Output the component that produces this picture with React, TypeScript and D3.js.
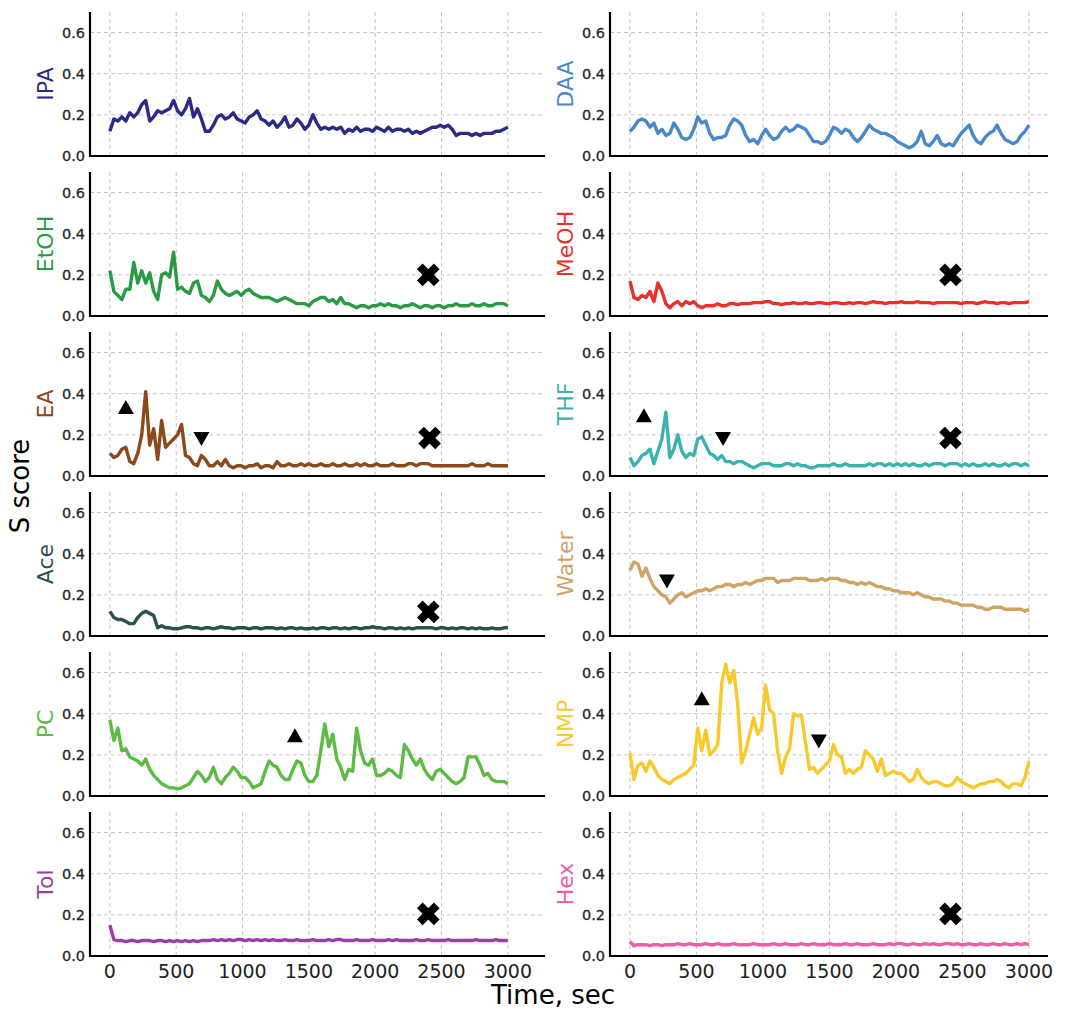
import React from "react";
import * as d3 from "d3";

// sampling grid of the traces, seconds
const TIMES = d3.range(0, 3001, 30);

const X_TICKS = [0, 500, 1000, 1500, 2000, 2500, 3000];
const Y_TICKS = [0.0, 0.2, 0.4, 0.6];

const LEFT_NAMES = ["IPA", "EtOH", "EA", "Ace", "PC", "Tol"];
const RIGHT_NAMES = ["DAA", "MeOH", "THF", "Water", "NMP", "Hex"];

const IPA = [
  0.12, 0.18, 0.17, 0.19, 0.17, 0.21, 0.19, 0.21, 0.25, 0.27,
  0.17, 0.19, 0.22, 0.21, 0.22, 0.23, 0.27, 0.22, 0.2, 0.23,
  0.28, 0.19, 0.23, 0.18, 0.12, 0.12, 0.15, 0.19, 0.2, 0.18,
  0.19, 0.21, 0.18, 0.17, 0.16, 0.19, 0.2, 0.22, 0.18, 0.17,
  0.15, 0.17, 0.14, 0.16, 0.19, 0.14, 0.15, 0.18, 0.16, 0.13,
  0.15, 0.2, 0.16, 0.13, 0.14, 0.13, 0.14, 0.13, 0.14, 0.11,
  0.13, 0.12, 0.14, 0.12, 0.13, 0.13, 0.12, 0.14, 0.13, 0.12,
  0.14, 0.12, 0.13, 0.13, 0.12, 0.13, 0.11, 0.12, 0.11, 0.12,
  0.13, 0.14, 0.14, 0.15, 0.14, 0.15, 0.13, 0.1, 0.11, 0.11,
  0.11, 0.1, 0.11, 0.1, 0.11, 0.11, 0.11, 0.12, 0.12, 0.13,
  0.14,
];

const DAA = [
  0.12, 0.14, 0.17, 0.18, 0.17, 0.14, 0.16, 0.11, 0.13, 0.1,
  0.11, 0.16, 0.13, 0.09, 0.08, 0.09, 0.13, 0.19, 0.16, 0.17,
  0.11, 0.08, 0.09, 0.09, 0.1, 0.15, 0.18, 0.17, 0.15, 0.1,
  0.07, 0.08, 0.06, 0.1, 0.13, 0.1, 0.08, 0.09, 0.12, 0.14,
  0.12, 0.13, 0.15, 0.14, 0.13, 0.1, 0.07, 0.07, 0.06, 0.07,
  0.1, 0.14, 0.13, 0.11, 0.13, 0.12, 0.09, 0.07, 0.09, 0.12,
  0.15, 0.13, 0.12, 0.11, 0.11, 0.1, 0.09, 0.07, 0.06, 0.05,
  0.04, 0.05, 0.07, 0.12, 0.06, 0.05, 0.07, 0.1, 0.06, 0.05,
  0.06, 0.05, 0.08, 0.11, 0.13, 0.15, 0.1, 0.07, 0.06, 0.09,
  0.11, 0.12, 0.15, 0.11, 0.08, 0.07, 0.06, 0.07, 0.1, 0.12,
  0.15,
];

const EtOH = [
  0.22, 0.12, 0.1, 0.08, 0.13, 0.13, 0.26, 0.16, 0.22, 0.16,
  0.21, 0.12, 0.08, 0.2, 0.21, 0.19, 0.31, 0.13, 0.14, 0.12,
  0.11, 0.16, 0.17, 0.1, 0.09, 0.07, 0.1, 0.17, 0.13, 0.11,
  0.1, 0.11, 0.12, 0.1, 0.12, 0.13, 0.11, 0.1, 0.09, 0.09,
  0.09, 0.08, 0.07, 0.08, 0.09, 0.08, 0.07, 0.06, 0.06, 0.06,
  0.05, 0.07, 0.08, 0.09, 0.09, 0.07, 0.08, 0.06, 0.09, 0.06,
  0.06, 0.05, 0.04, 0.05, 0.05, 0.04, 0.05, 0.05, 0.06, 0.05,
  0.06, 0.05, 0.05, 0.04, 0.05, 0.05, 0.06, 0.05, 0.04, 0.05,
  0.05, 0.04, 0.05, 0.05, 0.04, 0.05, 0.05, 0.06, 0.05, 0.05,
  0.05, 0.06, 0.05, 0.05, 0.06, 0.05, 0.05, 0.06, 0.06, 0.06,
  0.05,
];

const MeOH = [
  0.17, 0.09, 0.08, 0.1, 0.09, 0.12, 0.07, 0.16, 0.12, 0.06,
  0.04, 0.06, 0.07, 0.05, 0.07, 0.06, 0.07, 0.05, 0.04, 0.05,
  0.05, 0.05, 0.06, 0.05, 0.05, 0.06, 0.06, 0.055, 0.06, 0.06,
  0.06, 0.065, 0.065, 0.065, 0.07, 0.07, 0.06, 0.06, 0.055, 0.06,
  0.06, 0.065, 0.06, 0.06, 0.065, 0.06, 0.06, 0.065, 0.065, 0.06,
  0.06, 0.065, 0.065, 0.06, 0.06, 0.065, 0.06, 0.065, 0.065, 0.06,
  0.065, 0.07, 0.065, 0.065, 0.06, 0.065, 0.065, 0.065, 0.07, 0.065,
  0.065, 0.065, 0.07, 0.065, 0.065, 0.065, 0.06, 0.065, 0.065, 0.065,
  0.065, 0.065, 0.065, 0.06, 0.065, 0.065, 0.065, 0.06, 0.065, 0.07,
  0.065, 0.065, 0.06, 0.065, 0.065, 0.06, 0.065, 0.065, 0.065, 0.065,
  0.07,
];

const EA = [
  0.11, 0.09, 0.1, 0.13, 0.14, 0.07, 0.06, 0.11, 0.2, 0.41,
  0.15, 0.23, 0.08, 0.27, 0.14, 0.16, 0.18, 0.2, 0.25, 0.1,
  0.09, 0.06, 0.05, 0.1, 0.08, 0.05, 0.05, 0.07, 0.05, 0.08,
  0.05, 0.04, 0.05, 0.05, 0.04, 0.05, 0.05, 0.06, 0.04, 0.05,
  0.05, 0.04, 0.07, 0.05, 0.05, 0.06, 0.05, 0.05, 0.06, 0.05,
  0.06, 0.05, 0.05, 0.06, 0.05, 0.05, 0.06, 0.05, 0.05, 0.06,
  0.05, 0.05, 0.06, 0.05, 0.06, 0.05, 0.05, 0.06, 0.05, 0.05,
  0.05, 0.06, 0.05, 0.05, 0.05, 0.06, 0.06, 0.05, 0.06, 0.06,
  0.06, 0.05, 0.05, 0.05, 0.05, 0.05, 0.05, 0.05, 0.05, 0.05,
  0.05, 0.06, 0.05, 0.05, 0.05, 0.06, 0.05, 0.05, 0.05, 0.05,
  0.05,
];

const THF = [
  0.09, 0.05, 0.07, 0.1, 0.11, 0.13, 0.06, 0.12, 0.18, 0.31,
  0.09, 0.13, 0.2, 0.12, 0.09, 0.11, 0.1, 0.18, 0.19, 0.15,
  0.11, 0.1, 0.08, 0.1, 0.07, 0.07, 0.06, 0.07, 0.07, 0.06,
  0.05, 0.04, 0.05, 0.06, 0.06, 0.06, 0.05, 0.05, 0.05, 0.06,
  0.06, 0.05, 0.06, 0.05, 0.05, 0.04, 0.04, 0.05, 0.05, 0.05,
  0.05, 0.06, 0.05, 0.05, 0.06, 0.05, 0.05, 0.05, 0.05, 0.05,
  0.06, 0.05, 0.06, 0.06, 0.05, 0.06, 0.05, 0.06, 0.05, 0.06,
  0.05, 0.06, 0.05, 0.05, 0.06, 0.05, 0.06, 0.06, 0.06, 0.05,
  0.06, 0.06, 0.06, 0.05, 0.06, 0.05, 0.06, 0.05, 0.05, 0.06,
  0.05, 0.06, 0.05, 0.05, 0.06, 0.05, 0.06, 0.06, 0.05, 0.06,
  0.05,
];

const Ace = [
  0.12, 0.09, 0.08, 0.08, 0.07, 0.06, 0.06, 0.09, 0.11, 0.12,
  0.11, 0.1, 0.04, 0.05, 0.04, 0.04, 0.035, 0.035, 0.04, 0.045,
  0.045, 0.04, 0.04, 0.035, 0.04, 0.04, 0.035, 0.04, 0.045, 0.04,
  0.04, 0.035, 0.04, 0.04, 0.04, 0.035, 0.04, 0.04, 0.035, 0.04,
  0.04, 0.04, 0.035, 0.04, 0.035, 0.04, 0.04, 0.035, 0.04, 0.035,
  0.035, 0.04, 0.035, 0.04, 0.04, 0.035, 0.04, 0.04, 0.035, 0.04,
  0.035, 0.04, 0.04, 0.035, 0.04, 0.04, 0.045, 0.04, 0.04, 0.035,
  0.04, 0.04, 0.035, 0.04, 0.035, 0.04, 0.035, 0.04, 0.04, 0.04,
  0.04, 0.04, 0.035, 0.04, 0.04, 0.035, 0.04, 0.035, 0.04, 0.04,
  0.035, 0.04, 0.035, 0.04, 0.035, 0.035, 0.04, 0.035, 0.035, 0.04,
  0.04,
];

const Water = [
  0.32, 0.36, 0.35, 0.29, 0.33, 0.28, 0.24, 0.22, 0.2, 0.19,
  0.16, 0.18, 0.2, 0.21, 0.19, 0.2, 0.21, 0.22, 0.22, 0.23,
  0.22, 0.23, 0.24, 0.24, 0.25, 0.25, 0.24, 0.25, 0.25, 0.26,
  0.25, 0.26, 0.27, 0.27, 0.28, 0.28, 0.28, 0.26, 0.27, 0.27,
  0.27, 0.28, 0.28, 0.28, 0.28, 0.27, 0.27, 0.27, 0.28, 0.27,
  0.28, 0.28, 0.28, 0.27, 0.27, 0.26, 0.26, 0.25, 0.26, 0.25,
  0.26, 0.25, 0.24, 0.24, 0.23, 0.23, 0.22, 0.22, 0.21, 0.21,
  0.21, 0.2, 0.21, 0.2, 0.19, 0.19, 0.18, 0.18, 0.18, 0.17,
  0.17, 0.16, 0.16, 0.15, 0.15, 0.15, 0.15, 0.14, 0.14, 0.13,
  0.13, 0.14, 0.14, 0.14, 0.13, 0.13, 0.13, 0.13, 0.13, 0.12,
  0.13,
];

const PC = [
  0.37, 0.27, 0.33, 0.22, 0.23, 0.19, 0.18, 0.17, 0.15, 0.18,
  0.13, 0.1, 0.08, 0.06, 0.05, 0.04, 0.04, 0.035, 0.04, 0.05,
  0.06, 0.09, 0.12, 0.1, 0.07, 0.09, 0.14, 0.08, 0.06, 0.09,
  0.11, 0.14, 0.12, 0.09, 0.09, 0.07, 0.04, 0.05, 0.06, 0.12,
  0.17, 0.15, 0.14, 0.1, 0.08, 0.08, 0.13, 0.17, 0.16, 0.1,
  0.07, 0.07, 0.1, 0.22, 0.35, 0.24, 0.3, 0.18, 0.14, 0.08,
  0.13, 0.12, 0.33, 0.22, 0.16, 0.15, 0.18, 0.1, 0.1, 0.11,
  0.13, 0.12, 0.1, 0.09, 0.25, 0.22, 0.18, 0.15, 0.18, 0.13,
  0.1, 0.08, 0.12, 0.13, 0.11, 0.09, 0.07, 0.06, 0.07, 0.09,
  0.19, 0.19, 0.19, 0.15, 0.1, 0.11, 0.08, 0.07, 0.07, 0.07,
  0.06,
];

const NMP = [
  0.21, 0.08, 0.15, 0.16, 0.12, 0.17, 0.14, 0.1, 0.08, 0.07,
  0.06, 0.08, 0.09, 0.1, 0.11, 0.13, 0.15, 0.33, 0.22, 0.32,
  0.2, 0.22, 0.25, 0.55, 0.64, 0.55, 0.61, 0.45, 0.16, 0.22,
  0.3, 0.38, 0.3, 0.33, 0.54, 0.42, 0.4, 0.22, 0.11, 0.19,
  0.23, 0.4, 0.39, 0.39, 0.26, 0.13, 0.14, 0.11, 0.13, 0.15,
  0.17, 0.25, 0.2, 0.19, 0.11, 0.13, 0.11, 0.13, 0.14, 0.22,
  0.2, 0.18, 0.12, 0.18, 0.1, 0.11, 0.12, 0.11, 0.11, 0.09,
  0.07, 0.08, 0.13, 0.09, 0.07, 0.06, 0.07, 0.07, 0.06, 0.05,
  0.05, 0.06, 0.09, 0.07, 0.06, 0.05, 0.04, 0.05, 0.06, 0.06,
  0.07, 0.07, 0.08, 0.07, 0.05, 0.04, 0.06, 0.06, 0.05, 0.09,
  0.17,
];

const Tol = [
  0.15, 0.08, 0.075, 0.075, 0.07, 0.075, 0.075, 0.07, 0.075, 0.075,
  0.075, 0.07, 0.075, 0.075, 0.07, 0.075, 0.07, 0.075, 0.07, 0.075,
  0.07, 0.075, 0.07, 0.075, 0.075, 0.075, 0.08, 0.075, 0.08, 0.075,
  0.08, 0.075, 0.08, 0.08, 0.075, 0.08, 0.075, 0.08, 0.075, 0.08,
  0.075, 0.08, 0.075, 0.075, 0.08, 0.075, 0.075, 0.08, 0.075, 0.075,
  0.075, 0.08, 0.075, 0.075, 0.075, 0.08, 0.075, 0.08, 0.08, 0.075,
  0.075, 0.075, 0.08, 0.075, 0.075, 0.075, 0.08, 0.075, 0.075, 0.075,
  0.08, 0.075, 0.08, 0.075, 0.075, 0.075, 0.075, 0.08, 0.075, 0.075,
  0.08, 0.075, 0.075, 0.075, 0.075, 0.08, 0.075, 0.075, 0.075, 0.075,
  0.075, 0.075, 0.08, 0.075, 0.075, 0.075, 0.075, 0.08, 0.075, 0.075,
  0.075,
];

const Hex = [
  0.07, 0.05, 0.055, 0.055, 0.055, 0.05, 0.055, 0.055, 0.05, 0.055,
  0.055, 0.055, 0.06, 0.055, 0.055, 0.06, 0.055, 0.055, 0.055, 0.06,
  0.055, 0.055, 0.06, 0.055, 0.055, 0.055, 0.06, 0.055, 0.055, 0.055,
  0.055, 0.06, 0.055, 0.055, 0.055, 0.055, 0.06, 0.055, 0.055, 0.06,
  0.055, 0.055, 0.055, 0.06, 0.055, 0.055, 0.06, 0.055, 0.055, 0.055,
  0.06, 0.055, 0.055, 0.055, 0.06, 0.055, 0.055, 0.06, 0.055, 0.055,
  0.055, 0.06, 0.055, 0.055, 0.055, 0.06, 0.055, 0.06, 0.06, 0.055,
  0.055, 0.06, 0.055, 0.055, 0.06, 0.055, 0.06, 0.055, 0.055, 0.06,
  0.06, 0.055, 0.06, 0.055, 0.055, 0.06, 0.055, 0.055, 0.06, 0.055,
  0.055, 0.06, 0.055, 0.055, 0.06, 0.055, 0.055, 0.06, 0.055, 0.06,
  0.055,
];

const VALUES: Record<string, number[]> = {
  IPA, DAA, EtOH, MeOH, EA, THF, Ace, Water, PC, NMP, Tol, Hex,
};

const COLORS: Record<string, string> = {
  IPA: "#2d2a86",
  DAA: "#4a88cc",
  EtOH: "#2a9a45",
  MeOH: "#e8312b",
  EA: "#8b4a1c",
  THF: "#3cb2b0",
  Ace: "#2b5050",
  Water: "#cda465",
  PC: "#5cbb45",
  NMP: "#f8c92a",
  Tol: "#9b3ea8",
  Hex: "#ea5fa5",
};

// annotation markers [panel, time, score]
const UP_MARKS: [string, number, number][] = [
  ["EA", 120, 0.33],
  ["THF", 105, 0.29],
  ["PC", 1395, 0.29],
  ["NMP", 540, 0.47],
];
const DOWN_MARKS: [string, number, number][] = [
  ["EA", 690, 0.185],
  ["THF", 700, 0.185],
  ["Water", 278, 0.27],
  ["NMP", 1420, 0.27],
];
const X_MARKS: [string, number, number][] = [
  ["EtOH", 2400, 0.2],
  ["MeOH", 2410, 0.2],
  ["EA", 2410, 0.185],
  ["THF", 2410, 0.185],
  ["Ace", 2400, 0.117],
  ["Tol", 2400, 0.205],
  ["Hex", 2410, 0.205],
];

const FONT = "DejaVu Sans";

const COLS = [
  { left: 90, right: 545, domain: [-150, 3280], names: LEFT_NAMES },
  { left: 610, right: 1048, domain: [-150, 3143], names: RIGHT_NAMES },
];

function Panel({ name, col, row }: { name: string; col: number; row: number }) {
  const c = COLS[col];
  const bottom = 156 + 160 * row;
  const top = bottom - 144;
  const x = d3.scaleLinear().domain(c.domain).range([c.left, c.right]);
  const y = d3.scaleLinear().domain([0, 0.7]).range([bottom, top]);
  const line = d3
    .line<number>()
    .x((_, i) => x(TIMES[i]))
    .y((v) => y(v));
  const isBottom = row === 5;
  const labelX = col === 0 ? 45 : 565;

  const tri = (cx: number, cy: number, up: boolean) => {
    const s = 8;
    return up
      ? `M${cx},${cy - s}L${cx + s},${cy + s * 0.75}L${cx - s},${cy + s * 0.75}Z`
      : `M${cx},${cy + s}L${cx + s},${cy - s * 0.75}L${cx - s},${cy - s * 0.75}Z`;
  };

  return (
    <g>
      {Y_TICKS.filter((t) => t > 0).map((t) => (
        <line
          key={"hy" + t}
          x1={c.left}
          x2={c.right}
          y1={y(t)}
          y2={y(t)}
          stroke="#c6c6c6"
          strokeWidth={1}
          strokeDasharray="4,3"
        />
      ))}
      {X_TICKS.map((t) => (
        <line
          key={"vx" + t}
          x1={x(t)}
          x2={x(t)}
          y1={top}
          y2={bottom}
          stroke="#c6c6c6"
          strokeWidth={1}
          strokeDasharray="4,3"
        />
      ))}
      <path
        d={line(VALUES[name]) || ""}
        fill="none"
        stroke={COLORS[name]}
        strokeWidth={3.4}
        strokeLinejoin="round"
      />
      {UP_MARKS.filter((m) => m[0] === name).map((m, i) => (
        <path key={"u" + i} d={tri(x(m[1]), y(m[2]), true)} fill="black" />
      ))}
      {DOWN_MARKS.filter((m) => m[0] === name).map((m, i) => (
        <path key={"d" + i} d={tri(x(m[1]), y(m[2]), false)} fill="black" />
      ))}
      {X_MARKS.filter((m) => m[0] === name).map((m, i) => (
        <g key={"x" + i} transform={`translate(${x(m[1])},${y(m[2])})`}>
          <rect x={-12} y={-4} width={24} height={8} fill="black" transform="rotate(45)" />
          <rect x={-12} y={-4} width={24} height={8} fill="black" transform="rotate(-45)" />
        </g>
      ))}
      <line x1={c.left} x2={c.left} y1={top} y2={bottom + 1} stroke="black" strokeWidth={2.2} />
      <line x1={c.left - 1} x2={c.right} y1={bottom} y2={bottom} stroke="black" strokeWidth={2.2} />
      {Y_TICKS.map((t) => (
        <text
          key={"ty" + t}
          x={c.left - 5}
          y={y(t)}
          textAnchor="end"
          dominantBaseline="central"
          fontFamily={FONT}
          fontSize={14.5}
          fill="#262626"
          stroke="#262626"
          strokeWidth={0.3}
        >
          {t.toFixed(1)}
        </text>
      ))}
      {isBottom &&
        X_TICKS.map((t) => (
          <text
            key={"tx" + t}
            x={x(t)}
            y={978}
            textAnchor="middle"
            fontFamily={FONT}
            fontSize={19}
            fill="#222"
          >
            {t}
          </text>
        ))}
      <text
        transform={`translate(${labelX},${bottom - 72}) rotate(-90)`}
        textAnchor="middle"
        dominantBaseline="central"
        fontFamily={FONT}
        fontSize={22}
        fill={COLORS[name]}
      >
        {name}
      </text>
    </g>
  );
}

export default function App() {
  return (
    <div style={{ position: "absolute", left: 0, top: 0 }}>
      <svg width={1070} height={1009} style={{ display: "block", background: "white" }}>
        {COLS.map((c, ci) =>
          c.names.map((n, ri) => <Panel key={n} name={n} col={ci} row={ri} />)
        )}
        <text
          transform="translate(20,486) rotate(-90)"
          textAnchor="middle"
          dominantBaseline="central"
          fontFamily={FONT}
          fontSize={26}
          fill="black"
        >
          S score
        </text>
        <text
          x={553}
          y={1004}
          textAnchor="middle"
          fontFamily={FONT}
          fontSize={26}
          fill="black"
        >
          Time, sec
        </text>
      </svg>
    </div>
  );
}
